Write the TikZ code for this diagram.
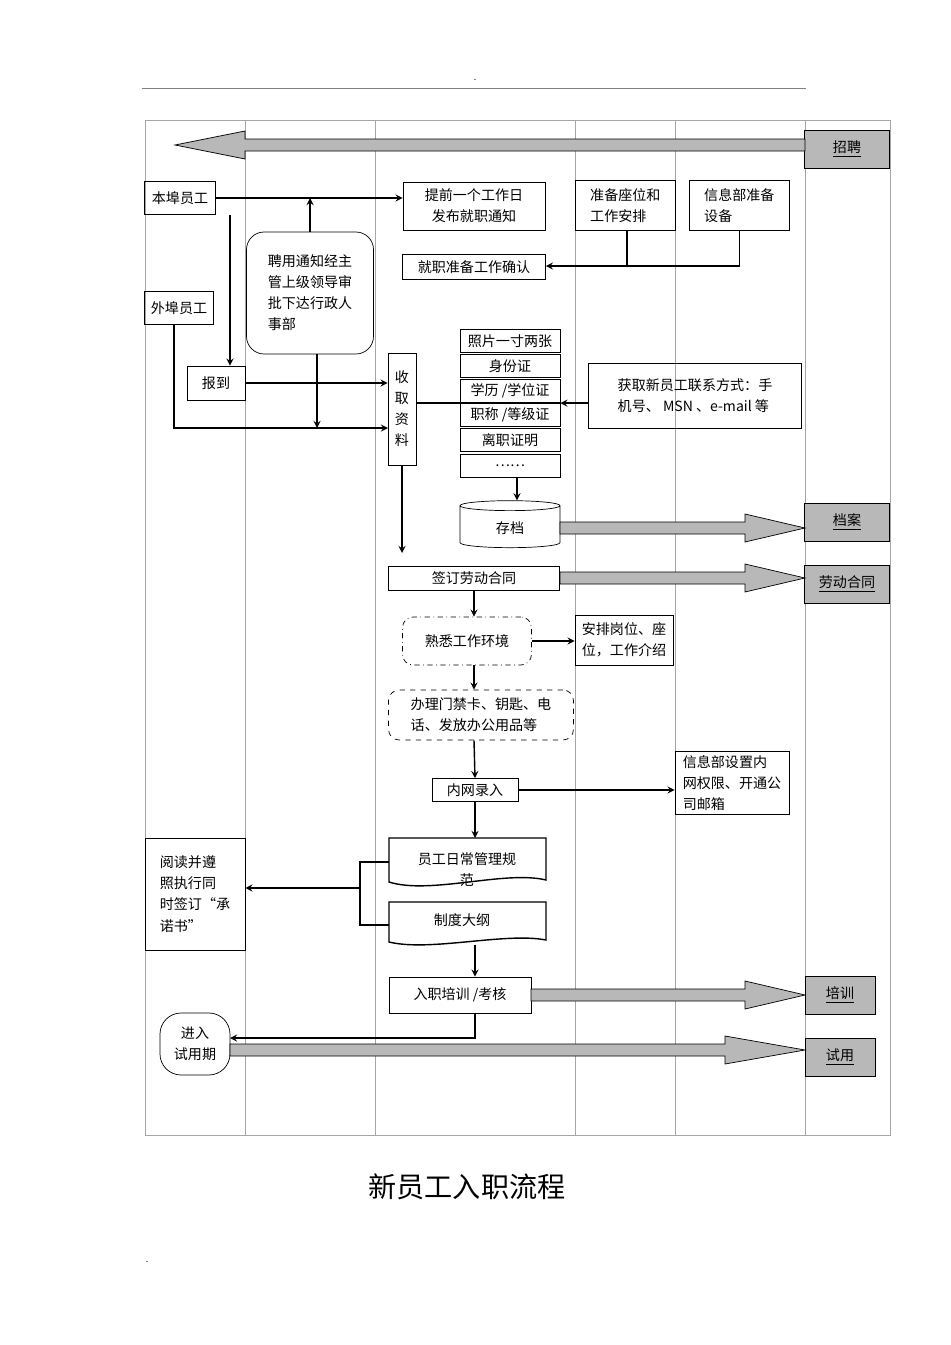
\documentclass[tikz,border=0pt]{standalone}
\usepackage{fontspec}
\setmainfont{Noto Sans CJK SC}
\usetikzlibrary{shapes.geometric,calc}
\definecolor{lane}{gray}{0.65}
\definecolor{gfill}{gray}{0.72}
\tikzset{
  box/.style={draw,rectangle,inner sep=2pt,font=\fontsize{8}{12}\selectfont,align=left},
  tag/.style={draw,fill=gfill,minimum height=0.76cm,font=\fontsize{8}{12}\selectfont},
  arr/.style={->,>=stealth,thick},
  ln/.style={thick}
}
% gray broad arrow: x1, x2, y, head length (signed)
\newcommand{\garrow}[4]{%
  \draw[fill=gfill] (#1,#3-6) -- (#2-#4,#3-6) -- (#2-#4,#3-14) -- (#2,#3)
    -- (#2-#4,#3+14) -- (#2-#4,#3+6) -- (#1,#3+6) -- cycle;}
\begin{document}
\begin{tikzpicture}[x=0.02cm,y=-0.02cm]
\useasboundingbox (0,0) rectangle (950,1345);

% header
\draw[gray] (142,88) -- (806,88);
\node[font=\tiny] (dot1) at (475,80) {.};
\node[font=\tiny] (dot2) at (147,1262) {.};

% lanes
\draw[lane] (145,120) rectangle (890,1135);
\foreach \x in {245,375,575,675,805} \draw[lane] (\x,120) -- (\x,1135);

% gray tags
\node[tag,minimum width=1.7cm] (zp) at (847,149) {\underline{招聘}};
\node[tag,minimum width=1.7cm] (da) at (847,522) {\underline{档案}};
\node[tag,minimum width=1.7cm] (ht) at (847,584) {\underline{劳动合同}};
\node[tag,minimum width=1.4cm] (px) at (840,995) {\underline{培训}};
\node[tag,minimum width=1.4cm] (sy) at (840,1057) {\underline{试用}};

% boxes
\node[box,minimum width=1.42cm,minimum height=0.66cm] (bb) at (180,198) {本埠员工};
\node[box,minimum width=2.84cm,minimum height=0.96cm,align=center] (tq) at (474,206) {提前一个工作日\\发布就职通知};
\node[box,minimum width=2cm,minimum height=1cm,anchor=north west] (zb) at (575,180) {准备座位和\\工作安排};
\node[box,minimum width=2cm,minimum height=1cm,anchor=north west] (xx) at (689,180) {信息部准备\\设备};
\node[box,minimum width=2.86cm,minimum height=0.5cm] (qr) at (474,267) {就职准备工作确认};
\node[box,rounded corners=10pt,minimum width=2.54cm,minimum height=2.44cm,align=left] (py) at (310,293) {聘用通知经主\\管上级领导审\\批下达行政人\\事部};
\node[box,minimum width=1.38cm,minimum height=0.66cm] (wb) at (179,308) {外埠员工};
\node[box,minimum width=1.16cm,minimum height=0.68cm,align=center] (bd) at (216,383) {报到};
\node[box,minimum width=0.56cm,minimum height=2.24cm,align=center,text width=0.3cm,inner sep=1pt] (sq) at (402,409) {收\\取\\资\\料};
\foreach \n/\t/\y in {l1/{照片一寸两张}/341,l2/{身份证}/366,l3/{学历 /学位证}/391,l4/{职称 /等级证}/415,l5/{离职证明}/440,l6/{……}/466}
  \node[box,minimum width=2cm,minimum height=0.46cm,align=center] (\n) at (510,\y) {\t};
\node[box,minimum width=4.26cm,minimum height=1.3cm,inner sep=6pt] (hq) at (695,396) {获取新员工联系方式：手\\机号、 MSN 、e-mail 等};
\node[draw,cylinder,shape border rotate=90,aspect=0.25,minimum width=2cm,minimum height=0.94cm,font=\fontsize{8}{12}\selectfont] (cd) at (510,528) {存档};
\node[box,minimum width=3.42cm,minimum height=0.48cm,align=center] (qd) at (474,578) {签订劳动合同};
\node[box,dash dot,rounded corners=6pt,minimum width=2.58cm,minimum height=0.96cm,align=center] (sx) at (467,641) {熟悉工作环境};
\node[box,minimum width=1.96cm,minimum height=1cm] (ap) at (624,640) {安排岗位、座\\位，工作介绍};
\node[box,dashed,rounded corners=6pt,minimum width=3.7cm,minimum height=1cm] (bl) at (481,715) {办理门禁卡、钥匙、电\\话、发放办公用品等};
\node[box,minimum width=1.72cm,minimum height=0.46cm,align=center] (nw) at (475,790) {内网录入};
\node[box,minimum width=2.28cm,minimum height=1.26cm] (sz) at (732,783) {信息部设置内\\网权限、开通公\\司邮箱};
\draw[thick] (389,838) -- (546,838) -- (546,880) .. controls (505,870) and (430,895) .. (389,882) -- cycle;
\node[font=\fontsize{8}{12}\selectfont,align=center] (gf) at (467,870) {员工日常管理规\\范};
\coordinate (gfl) at (389,862);
\coordinate (gfb) at (475,838);
\draw[thick] (389,902) -- (546,902) -- (546,940) .. controls (505,932) and (430,952) .. (389,942) -- cycle;
\node[font=\fontsize{8}{12}\selectfont] (dg) at (462,920) {制度大纲};
\coordinate (dgl) at (389,925);
\coordinate (dgb) at (475,945);
\node[box,minimum width=2cm,minimum height=2.24cm,inner sep=5pt] (yd) at (195,894) {阅读并遵\\照执行同\\时签订“承\\诺书”};
\node[box,minimum width=2.84cm,minimum height=0.72cm] (rz) at (460,995) {入职培训 /考核};
\node[box,rounded corners=12pt,minimum width=1.4cm,minimum height=1.24cm,align=center] (jr) at (195,1044) {进入\\试用期};

% broad arrows
\garrow{805}{175}{145}{-70}
\garrow{560}{805}{528}{60}
\garrow{560}{805}{578}{60}
\garrow{531}{805}{995}{60}
\garrow{230}{805}{1050}{80}

% connectors
\coordinate (bbd) at (230,215);
\draw[arr] (bb.east) -- (tq.west|-bb.east);
\draw[arr] (py.north) -- (py.north|-bb.east);
\draw[arr] (bbd) -- (bbd|-bd.north);
\coordinate (zbs) at (627,230);
\coordinate (jn) at (627,266);
\draw[ln] (xx.south) |- (jn);
\draw[ln] (zbs) -- (jn);
\draw[arr] (jn) -- (qr.east|-jn);
\coordinate (wbs) at (174,325);
\coordinate (sqw) at (388,428);
\draw[arr] (wbs) |- (sqw);
\draw[arr] (bd.east) -- (sq.west|-bd.east);
\coordinate (pys) at (317,354);
\draw[arr] (pys) -- (pys|-sqw);
\draw[ln] (sq.east|-l4.north) -- (l4.north west);
\draw[arr] (hq.west|-l4.north) -- (l4.north east);
\coordinate (l6s) at (517,478);
\draw[arr] (l6s) -- (l6s|-cd.north);
\coordinate (sqe) at (402,553);
\draw[arr] (sq.south) -- (sqe);
\draw[arr] (qd.south) -- (qd.south|-sx.north);
\draw[arr] (sx.east) -- (ap.west|-sx.east);
\draw[arr] (qd.south|-sx.south) -- (qd.south|-bl.north);
\draw[arr] (qd.south|-bl.south) -- (nw.north);
\draw[arr] (nw.east) -- (sz.west|-nw.east);
\draw[arr] (nw.south) -- (gfb);
\coordinate (br) at (360,888);
\draw[ln] (gfl) -| (br|-dgl) -- (dgl);
\draw[arr] (br) -- (yd.east|-br);
\draw[arr] (dgb) -- (dgb|-rz.north);
\coordinate (jre) at (230,1038);
\draw[arr] (dgb|-rz.south) |- (jre);

% title
\node[font=\fontsize{16}{20}\selectfont] (title) at (467,1187) {新员工入职流程};
\end{tikzpicture}
\end{document}
